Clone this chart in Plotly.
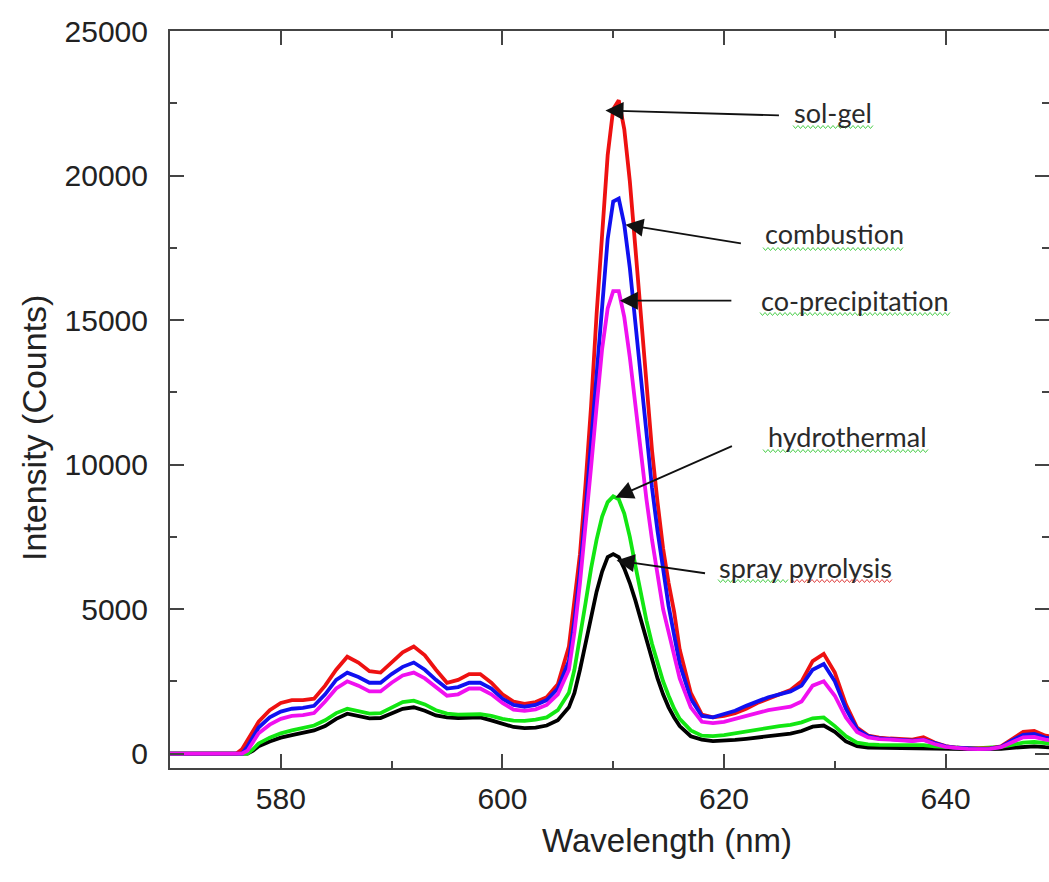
import plotly.graph_objects as go

# ---- data ----
wavelength = [570, 572, 574, 576, 576.5, 577, 577.5, 578, 579, 580, 581, 582, 583, 584, 585, 586, 587, 588, 589, 590,
              591, 592, 593, 594, 595, 596, 597, 598, 599, 600, 601, 602, 603, 604, 605, 606, 606.5, 607, 607.5, 608,
              608.5, 609, 609.5, 610, 610.5, 611, 611.5, 612, 612.5, 613, 613.5, 614, 614.5, 615, 615.5, 616, 617, 618,
              619, 620, 621, 622, 623, 624, 625, 626, 627, 628, 629, 630, 631, 632, 633, 634, 635, 636, 637, 638, 639,
              640, 641, 642, 643, 644, 645, 646, 647, 648, 649, 650]

sol_gel = [0, 0, 0, 0, 150, 450, 800, 1100, 1500, 1750, 1850, 1850, 1900, 2350, 2900, 3350, 3150, 2850, 2800, 3150,
           3500, 3700, 3400, 2900, 2450, 2550, 2750, 2750, 2450, 2050, 1800, 1720, 1780, 1950, 2400, 3700, 5200, 6900, 9300, 12000,
           15200, 18000, 20700, 22300, 22600, 21600, 19800, 17500, 15200, 12800, 10500, 8700, 7100, 5900, 4900, 3600, 2100, 1350,
           1250, 1300, 1400, 1550, 1750, 1900, 2050, 2200, 2500, 3200, 3450, 2800, 1700, 900, 620, 550, 520, 500, 480, 560, 380,
           260, 200, 180, 170, 180, 250, 500, 750, 780, 620, 560]

combustion = [0, 0, 0, 0, 0, 250, 600, 900, 1250, 1450, 1550, 1580, 1650, 2050, 2550, 2800, 2650, 2450, 2450, 2750,
              3000, 3150, 2900, 2550, 2250, 2300, 2450, 2450, 2250, 1900, 1680, 1620, 1680, 1850, 2250, 3200, 4600, 6300, 8400, 10800,
              13300, 15800, 17800, 19100, 19200, 18300, 16800, 14900, 12900, 11000, 9200, 7700, 6300, 5100, 4100, 3100, 1900, 1300,
              1250, 1350, 1480, 1650, 1800, 1950, 2050, 2150, 2350, 2900, 3100, 2500, 1550, 850, 600, 520, 500, 480, 450, 480, 350,
              250, 200, 170, 160, 170, 230, 450, 650, 680, 550, 500]

co_precipitation = [0, 0, 0, 0, 0, 100, 400, 700, 1000, 1200, 1300, 1330, 1400, 1800, 2250, 2500, 2350, 2150, 2150, 2450,
                    2700, 2800, 2600, 2300, 2000, 2050, 2250, 2250, 2050, 1750, 1520, 1480, 1530, 1680, 2050, 2900, 4200, 5900, 7800, 9900,
                    12000, 14000, 15400, 16000, 16000, 15100, 13700, 12000, 10400, 8800, 7400, 6100, 5000, 4200, 3400, 2600, 1600, 1100,
                    1050, 1100, 1200, 1300, 1400, 1500, 1560, 1620, 1800, 2350, 2500, 2000, 1250, 750, 560, 500, 480, 460, 430, 470, 330,
                    230, 190, 160, 150, 160, 220, 400, 560, 580, 480, 440]

hydrothermal = [0, 0, 0, 0, 0, 0, 150, 350, 550, 700, 800, 870, 970, 1150, 1400, 1550, 1480, 1380, 1400, 1600,
                1780, 1830, 1700, 1500, 1380, 1350, 1370, 1360, 1300, 1200, 1140, 1130, 1170, 1250, 1500, 2100, 2900, 4000, 5200, 6400,
                7400, 8200, 8700, 8900, 8800, 8300, 7500, 6500, 5500, 4600, 3800, 3100, 2500, 2000, 1550, 1200, 800, 620,
                600, 640, 700, 780, 850, 900, 950, 990, 1080, 1220, 1250, 950, 600, 380, 320, 300, 300, 290, 280, 290, 250,
                220, 200, 190, 190, 200, 230, 300, 380, 400, 350, 330]

spray_pyrolysis = [0, 0, 0, 0, 0, 0, 100, 250, 420, 550, 640, 720, 800, 950, 1200, 1380, 1300, 1220, 1230, 1400,
                   1550, 1600, 1480, 1320, 1250, 1230, 1250, 1250, 1150, 1020, 920, 880, 900, 970, 1150, 1600, 2100, 2900, 3800, 4700,
                   5600, 6300, 6800, 6900, 6800, 6400, 5900, 5300, 4600, 3900, 3200, 2600, 2050, 1600, 1250, 950, 600, 480,
                   430, 440, 470, 510, 560, 600, 650, 690, 780, 930, 970, 750, 420, 260, 210, 200, 200, 190, 190, 190, 170,
                   160, 150, 150, 150, 150, 160, 200, 240, 250, 220, 200]

series_names = ["spray pyrolysis", "hydrothermal", "sol-gel", "combustion", "co-precipitation"]
series_values = [spray_pyrolysis, hydrothermal, sol_gel, combustion, co_precipitation]
series_colors = ["#000000", "#12e612", "#ee1111", "#1010f0", "#f010f0"]

x_ticks = [580, 600, 620, 640]
y_ticks = [0, 5000, 10000, 15000, 20000, 25000]

# ---- figure ----
W, H = 1049, 882
ML, MR, MT, MB = 170, 0, 31, 114
PW, PH = W - ML - MR, H - MT - MB

fig = go.Figure()
for name, vals, col in zip(series_names, series_values, series_colors):
    fig.add_trace(go.Scatter(x=wavelength, y=vals, mode="lines", name=name,
                             line=dict(color=col, width=3.8), showlegend=False))
# helper trace for the right-hand tick axis
fig.add_trace(go.Scatter(x=[None], y=[None], yaxis="y2", showlegend=False, hoverinfo="skip"))

axis_col = "#444444"
tick_font = dict(family="Liberation Sans, Arial, sans-serif", size=30, color="#222222")

fig.update_layout(
    width=W, height=H,
    margin=dict(l=ML, r=MR, t=MT, b=MB),
    paper_bgcolor="white", plot_bgcolor="white",
    xaxis=dict(range=[570, 649.33], tickvals=x_ticks, ticks="inside", ticklen=14, tickwidth=2,
               tickcolor=axis_col, showline=True, linecolor=axis_col, linewidth=2, mirror="ticks",
               showgrid=False, zeroline=False, tickfont=tick_font, ticklabelstandoff=3,
               minor=dict(dtick=10, tick0=570, ticks="inside", ticklen=7, tickwidth=2, tickcolor=axis_col)),
    yaxis=dict(range=[-500, 25000], tickvals=y_ticks, tickformat="d", ticks="inside", ticklen=14, tickwidth=2,
               tickcolor=axis_col, showline=True, linecolor=axis_col, linewidth=2, mirror=False,
               showgrid=False, zeroline=False, tickfont=tick_font, ticklabelstandoff=14,
               minor=dict(dtick=2500, tick0=0, ticks="inside", ticklen=7, tickwidth=2, tickcolor=axis_col)),
    yaxis2=dict(range=[-500, 25000], overlaying="y", side="right", tickvals=y_ticks, ticks="inside",
                ticklen=14, tickwidth=2, tickcolor=axis_col, showline=False, showgrid=False,
                zeroline=False, showticklabels=False,
                minor=dict(dtick=2500, tick0=0, ticks="inside", ticklen=7, tickwidth=2, tickcolor=axis_col)),
)

def px2paper(px, py):
    return (px - ML) / PW, (H - MB - py) / PH

title_font = dict(family="Liberation Sans, Arial, sans-serif", size=33, color="#222222")
tx, ty = px2paper(667, 840)
fig.add_annotation(text="Wavelength (nm)", x=tx, y=ty, xref="paper", yref="paper",
                   showarrow=False, font=title_font, xanchor="center", yanchor="middle")
tx, ty = px2paper(34, 428)
fig.add_annotation(text="Intensity (Counts)", x=tx, y=ty, xref="paper", yref="paper", textangle=-90,
                   showarrow=False, font=dict(family="Liberation Sans, Arial, sans-serif", size=34, color="#222222"),
                   xanchor="center", yanchor="middle")

# arrows: head in data coords, tail offset in px
arrows = [
    (609.3, 22250, 175, 5),
    (611.1, 18300, 117, 19),
    (610.6, 15670, 113, 0),
    (610.2, 8860, 118, -52),
    (610.3, 6680, 90, 13),
]
for hx, hy, ax, ay in arrows:
    fig.add_annotation(x=hx, y=hy, xref="x", yref="y", text="", showarrow=True,
                       ax=ax, ay=ay, arrowhead=2, arrowsize=2.0, arrowwidth=1.8,
                       arrowcolor="#111111", standoff=0)

label_font = dict(family="Lato, Open Sans, sans-serif", size=27, color="#2a2a2a")
labels = [
    ("sol-gel", 833, 112),
    ("combustion", 834, 234),
    ("co-precipitation", 855, 300),
    ("hydrothermal", 847, 437),
    ("spray pyrolysis", 805, 567),
]
for txt, px, py in labels:
    lx, ly = px2paper(px, py)
    fig.add_annotation(text=txt, x=lx, y=ly, xref="paper", yref="paper", showarrow=False,
                       font=label_font, xanchor="center", yanchor="middle")

# spell-check style wavy underlines (decoration under the labels)
squiggles = [
    (793, 873, 127, "#4ccf4c"),
    (763, 905, 249, "#4ccf4c"),
    (760, 950, 314, "#4ccf4c"),
    (763, 930, 451, "#4ccf4c"),
    (718, 790, 581, "#4ccf4c"),
    (792, 892, 581, "#e04040"),
]
for x0, x1, yy, col in squiggles:
    pts = []
    k = 0
    xx = x0
    while xx <= x1:
        px_, py_ = px2paper(xx, yy + (1.5 if k % 2 else -1.5))
        pts.append(f"{px_:.5f},{py_:.5f}")
        xx += 2.5
        k += 1
    fig.add_shape(type="path", path="M " + " L ".join(pts), xref="paper", yref="paper",
                  line=dict(color=col, width=1))

fig.write_html("out.html")
